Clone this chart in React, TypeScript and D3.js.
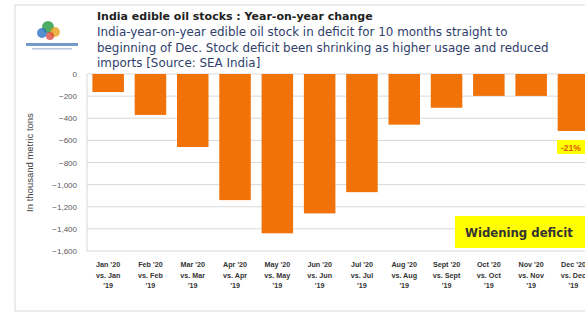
import React from "react";
import * as d3 from "d3";

const categories = [
  ["Jan '20", "vs. Jan", "'19"],
  ["Feb '20", "vs. Feb", "'19"],
  ["Mar '20", "vs. Mar", "'19"],
  ["Apr '20", "vs. Apr", "'19"],
  ["May '20", "vs. May", "'19"],
  ["Jun '20", "vs. Jun", "'19"],
  ["Jul '20", "vs. Jul", "'19"],
  ["Aug '20", "vs. Aug", "'19"],
  ["Sept '20", "vs. Sept", "'19"],
  ["Oct '20", "vs. Oct", "'19"],
  ["Nov '20", "vs. Nov", "'19"],
  ["Dec '20", "vs. Dec", "'19"],
];
const values = [-163, -370, -660, -1140, -1440, -1260, -1068, -458, -305, -198, -198, -515];
const yTicks = [0, -200, -400, -600, -800, -1000, -1200, -1400, -1600];
const title = "India edible oil stocks : Year-on-year change";
const subtitle = [
  "India-year-on-year edible oil stock in deficit for 10 months straight to",
  "beginning of Dec. Stock deficit been shrinking as higher usage and reduced",
  "imports [Source: SEA India]",
];
const decLabel = "-21%";
const note = "Widening deficit";

export default function App() {
  const W = 585, H = 312;
  const left = 87;
  const band = 42.3;
  const x = d3.scaleBand<number>()
    .domain(d3.range(categories.length))
    .range([left, left + band * categories.length])
    .paddingInner(0.255)
    .paddingOuter(0.1275);
  const y = d3.scaleLinear().domain([-1600, 0]).range([251, 74]);
  const fmt = d3.format(",");
  const font = "'Liberation Sans', Arial, sans-serif";
  const wide = "'DejaVu Sans', Verdana, sans-serif";
  return (
    <svg width={W} height={H} style={{ position: "absolute", left: 0, top: 0, background: "#fff" }} fontFamily={font}>
      <rect x={15} y={5} width={W} height={306} fill="#fff" stroke="#d9d9d9" strokeWidth={1} />
      {/* logo */}
      <g>
        <circle cx={48} cy={27} r={6} fill="#2e9e4a" opacity={0.85} />
        <circle cx={55} cy={32} r={5} fill="#e8a21c" opacity={0.8} />
        <circle cx={42} cy={33} r={5} fill="#2a73c4" opacity={0.8} />
        <circle cx={50} cy={36} r={4} fill="#d6342c" opacity={0.7} />
        <rect x={26} y={43} width={52} height={3} fill="#3b6db3" opacity={0.7} />
        <rect x={32} y={48} width={40} height={1.5} fill="#9bb0cf" opacity={0.7} />
      </g>
      <text x={97} y={20} fontSize={11} fontWeight="bold" fill="#222" fontFamily={wide}>{title}</text>
      {subtitle.map((s, i) => (
        <text key={i} x={97} y={36 + i * 15.5} fontSize={11.9} fill="#2f3e6b" fontFamily={wide}>{s}</text>
      ))}
      {yTicks.map((t) => (
        <g key={t}>
          <line x1={left} x2={W} y1={y(t)} y2={y(t)} stroke="#d9d9d9" strokeWidth={1} />
          <text x={77} y={y(t) + 3} fontSize={8} fill="#595959" textAnchor="end">{fmt(t)}</text>
        </g>
      ))}
      <line x1={left} x2={left} y1={74} y2={251} stroke="#d9d9d9" />
      <text transform={`translate(33,${(74 + 251) / 2}) rotate(-90)`} fontSize={9.5} fill="#404040" textAnchor="middle">In thousand metric tons</text>
      {values.map((v, i) => (
        <rect key={i} x={x(i)} y={y(0)} width={x.bandwidth()} height={y(v) - y(0)} fill="#F07208" />
      ))}
      {categories.map((c, i) => (
        <text key={i} x={(x(i) as number) + x.bandwidth() / 2} textAnchor="middle" fontSize={7.2} fontWeight="bold" fill="#333">
          {c.map((l, j) => (
            <tspan key={j} x={(x(i) as number) + x.bandwidth() / 2} y={267 + j * 10.5}>{l}</tspan>
          ))}
        </text>
      ))}
      <rect x={557} y={140} width={40} height={14} fill="#ffff00" />
      <text x={561} y={150.5} fontSize={8.5} fontWeight="bold" fill="#e05a00">{decLabel}</text>
      <rect x={455} y={216} width={135} height={32} fill="#ffff00" />
      <text x={465} y={236.5} fontSize={11.7} fontWeight="bold" fill="#333" fontFamily={wide}>{note}</text>
    </svg>
  );
}
